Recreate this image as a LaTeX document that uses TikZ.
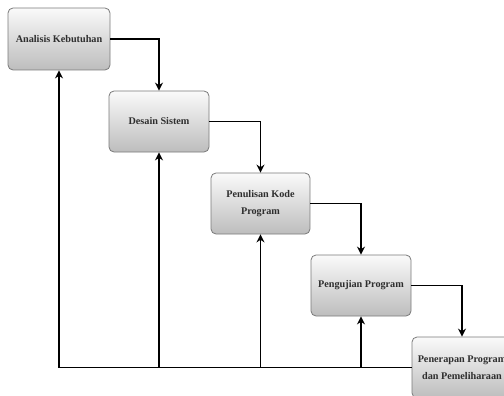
\documentclass[tikz,border=0pt]{standalone}
\usepackage{fontspec}
\setmainfont{Liberation Serif}
\usetikzlibrary{arrows.meta}
\definecolor{txt}{HTML}{2E2E2E}
\definecolor{bord}{HTML}{7A7A7A}
\tikzset{
  proc/.style={rectangle, rounded corners=5pt, draw=bord, line width=0.8pt,
    top color=gray!4, bottom color=gray!52, minimum width=100pt, minimum height=61pt,
    align=center, text=txt, font=\bfseries\fontsize{10.2}{17}\selectfont, inner sep=2pt},
  arr/.style={line width=1.5pt, -{Stealth[length=8pt,width=8pt]}}
}
\begin{document}
\begin{tikzpicture}[x=1pt,y=-1pt]
\useasboundingbox (0,0) rectangle (504,396);
\clip (0,0) rectangle (504,396);
\node[proc, minimum width=102pt, minimum height=62pt] (b1) at (59,39) {Analisis Kebutuhan};
\node[proc] (b2) at (159,121.5) {Desain Sistem};
\node[proc, minimum width=99pt] (b3) at (260.5,203.5) {Penulisan Kode\\Program};
\node[proc] (b4) at (361,285.5) {Pengujian Program};
\node[proc] (b5) at (462,367.5) {Penerapan Program\\dan Pemeliharaan};
\draw[arr] (b1.east) -| (b2.north);
\draw[arr] (b2.east) -| (b3.north);
\draw[arr] (b3.east) -| (b4.north);
\draw[arr] (b4.east) -| (b5.north);
\draw[arr] (b5.west) -| (b1.south);
\draw[arr] (b2.south |- b5.west) -- (b2.south);
\draw[arr] (b3.south |- b5.west) -- (b3.south);
\draw[arr] (b4.south |- b5.west) -- (b4.south);
\end{tikzpicture}
\end{document}
